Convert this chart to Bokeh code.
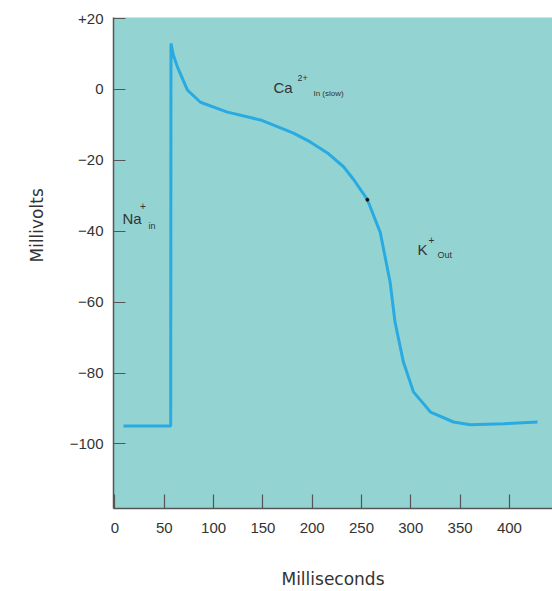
from bokeh.plotting import figure
from bokeh.models import Range1d, Label, FixedTicker, Title
from bokeh.embed import file_html
from bokeh.resources import INLINE

# Action potential trace
time_ms = [8.6, 56.5, 56.8, 59.3, 63.4, 73.5, 86.7, 114.0, 147.6, 181.0, 198.0,
           215.5, 231.8, 242.0, 256.0, 269.0, 279.0, 284.0, 292.5, 302.7, 320.0,
           343.3, 360.5, 394.0, 428.5]
millivolts = [-94.9, -94.9, 13.0, 9.6, 6.3, -0.2, -3.6, -6.4, -8.6, -12.3, -14.8,
              -17.9, -21.8, -25.4, -31.1, -40.3, -54.3, -65.6, -76.9, -85.3, -91.0,
              -93.8, -94.6, -94.3, -93.8]

marker_ms = [256.0]
marker_mv = [-31.1]

x_ticks = [0, 50, 100, 150, 200, 250, 300, 350, 400]
y_ticks = [20, 0, -20, -40, -60, -80, -100]
y_tick_labels = ["+20", "0", "\u221220", "\u221240", "\u221260", "\u221280", "\u2212100"]

FONT = "Liberation Sans"
TXT = "#333333"
AX = "#555555"

p = figure(width=552, height=591, output_backend="svg", toolbar_location=None,
           x_range=Range1d(-1.5, 443.7), y_range=Range1d(-118.2, 20.3),
           min_border_left=113, min_border_right=0, min_border_top=17,
           min_border_bottom=81)
p.background_fill_color = "#93d4d2"
p.border_fill_color = "white"
p.outline_line_color = None
p.grid.visible = False

p.xaxis.ticker = FixedTicker(ticks=x_ticks)
p.yaxis.ticker = FixedTicker(ticks=y_ticks)
p.yaxis.major_label_overrides = {t: l for t, l in zip(y_ticks, y_tick_labels)}
for ax in (p.xaxis, p.yaxis):
    ax.axis_line_color = AX
    ax.axis_line_width = 1.5
    ax.major_tick_line_color = AX
    ax.major_tick_line_width = 1.2
    ax.major_tick_out = 0
    ax.minor_tick_line_color = None
    ax.major_label_text_font = FONT
    ax.major_label_text_font_size = "15px"
    ax.major_label_text_color = TXT
p.yaxis.major_tick_in = 12
p.xaxis.major_tick_in = 14
p.yaxis.major_label_standoff = 10
p.xaxis.major_label_standoff = 14

p.xaxis.axis_label = "Milliseconds"
p.xaxis.axis_label_text_font = "DejaVu Sans"
p.xaxis.axis_label_text_font_size = "17px"
p.xaxis.axis_label_text_font_style = "normal"
p.xaxis.axis_label_text_color = TXT
p.xaxis.axis_label_standoff = 33

p.add_layout(Title(text="Millivolts", align="left", offset=246,
                   text_font="DejaVu Sans", text_font_size="17px",
                   text_font_style="normal", text_color=TXT, standoff=39), "left")

p.line(time_ms, millivolts, line_color="#29abe2", line_width=3)
p.scatter(marker_ms, marker_mv, size=3, color="#111111")

def lab(x, y, text, size):
    p.add_layout(Label(x=x, y=y, text=text, text_font=FONT,
                       text_font_size=size, text_color=TXT,
                       text_baseline="alphabetic", text_align="left"))

# Ion annotations
lab(7.6, -36.5, "Na", "15px")
lab(25.5, -33.0, "+", "10px")
lab(34.0, -38.4, "in", "9px")

lab(160.8, 0.6, "Ca", "15px")
lab(185.0, 3.1, "2+", "9px")
lab(201.3, -1.1, "In (slow)", "8px")

lab(306.8, -45.2, "K", "15px")
lab(318.0, -42.4, "+", "10px")
lab(327.0, -46.6, "Out", "9px")

open("out.html", "w").write(file_html(p, INLINE))
